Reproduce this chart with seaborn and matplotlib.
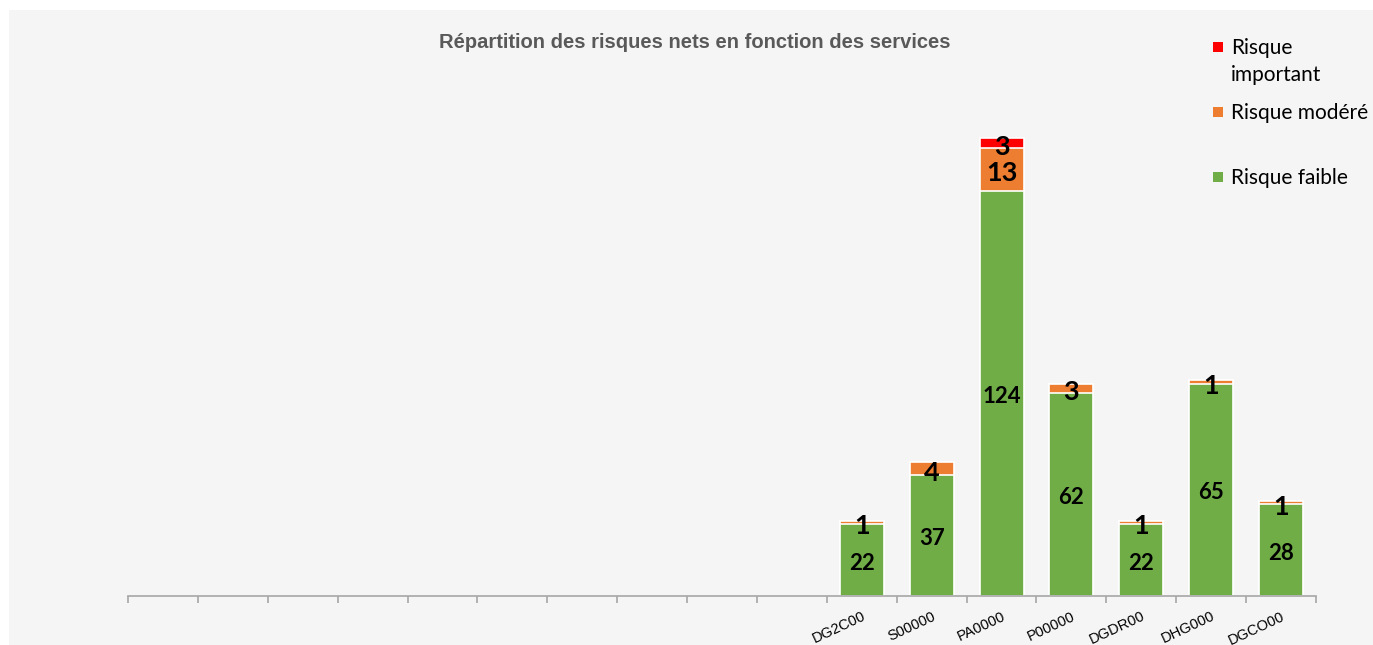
import matplotlib.pyplot as plt
import matplotlib.patches as mpatches
import seaborn as sns
import pandas as pd
import numpy as np

# ── Data ──────────────────────────────────────────────────────────────
services = ['DG2C00', 'S00000', 'PA0000', 'P00000', 'DGDR00', 'DHG000', 'DGCO00']
faible = [22, 37, 124, 62, 22, 65, 28]
modere = [1, 4, 13, 3, 1, 1, 1]
important = [0, 0, 3, 0, 0, 0, 0]
n_empty = 10  # empty category slots on the left

GREEN, ORANGE, RED = '#70AD47', '#ED7D31', '#FF0000'
BG = '#F5F5F5'

df = pd.DataFrame({'service': services, 'faible': faible,
                   'modere': modere, 'important': important})
df['c_mod'] = df['faible'] + df['modere']
df['c_imp'] = df['c_mod'] + df['important']

order = [f'_{i}' for i in range(n_empty)] + services

# ── Figure ────────────────────────────────────────────────────────────
sns.set_style('white')
plt.rcParams['font.family'] = ['Liberation Sans', 'DejaVu Sans']
LBL_FONT = ['Lato', 'DejaVu Sans']

fig = plt.figure(figsize=(13.73, 6.45), dpi=100, facecolor='white')
fig.patches.append(mpatches.Rectangle((9 / 1373, 0), 1, 1 - 10 / 645,
                                      transform=fig.transFigure,
                                      facecolor=BG, edgecolor='none', zorder=-5))
ax = fig.add_axes([128 / 1373, 49 / 645, 1188 / 1373, 523 / 645])
ax.set_zorder(2)
ax.patch.set_alpha(0)

w = 0.63
sns.barplot(data=df, x='service', y='c_imp', order=order, color=RED,
            width=w, edgecolor='white', linewidth=1.2, ax=ax, saturation=1)
sns.barplot(data=df, x='service', y='c_mod', order=order, color=ORANGE,
            width=w, edgecolor='white', linewidth=1.2, ax=ax, saturation=1)
sns.barplot(data=df, x='service', y='faible', order=order, color=GREEN,
            width=w, edgecolor='white', linewidth=1.2, ax=ax, saturation=1)

# value labels
def put_label(x, y, val, size, dy):
    ax.annotate(str(val), (x, y), xytext=(0, dy), textcoords='offset pixels',
                ha='center', va='center', fontsize=size, fontweight='bold',
                family=LBL_FONT, color='black')

for i, row in df.iterrows():
    x = n_empty + i
    put_label(x, row['faible'] / 2, row['faible'], 16, -3)
    if row['modere'] > 0:
        put_label(x, row['faible'] + row['modere'] / 2, row['modere'], 19.5, -4)
    if row['important'] > 0:
        put_label(x, row['c_mod'] + row['important'] / 2, row['important'], 19.5, -4)

ax.set_xlim(-0.5, len(order) - 0.5)
ax.set_ylim(0, 160)
ax.set_xlabel('')
ax.set_ylabel('')
ax.set_yticks([])
for s in ['top', 'left', 'right']:
    ax.spines[s].set_visible(False)
ax.spines['bottom'].set_color('#A6A6A6')
ax.spines['bottom'].set_linewidth(1.2)

labels = [''] * n_empty + services
ax.set_xticks(range(len(order)))
ax.set_xticklabels(labels, rotation=25, ha='right', rotation_mode='anchor',
                   fontsize=10.5, color='#000000')
ax.set_xticks(np.arange(-0.5, len(order), 1), minor=True)
ax.tick_params(axis='x', which='major', bottom=False, pad=6)
ax.tick_params(axis='x', which='minor', bottom=True, length=5,
               color='#A6A6A6', width=1.2)

fig.text(695 / 1373, 1 - 42 / 645, 'Répartition des risques nets en fonction des services',
         ha='center', va='center', fontsize=14.5, fontweight='bold', color='#595959')

# legend (Excel-like: entries evenly spaced, marker on first text line)
leg_items = [(RED, 'Risque\nimportant', 47),
             (ORANGE, 'Risque modéré', 112),
             (GREEN, 'Risque faible', 177)]
for col, txt, ypx in leg_items:
    fig.patches.append(mpatches.Rectangle((1213 / 1373, 1 - (ypx + 5) / 645),
                                          10 / 1373, 10 / 645,
                                          transform=fig.transFigure,
                                          facecolor=col, edgecolor='none'))
    fig.text(1231 / 1373, 1 - (ypx - 9) / 645, txt, ha='left', va='top',
             fontsize=15, family=LBL_FONT, color='black', linespacing=1.45)

fig.savefig('out.png', dpi=100, facecolor='white')
